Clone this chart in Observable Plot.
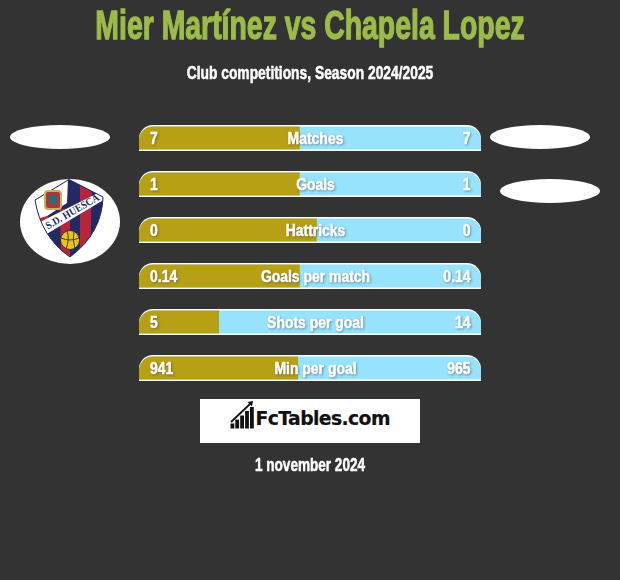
<!DOCTYPE html>
<html><head><meta charset="utf-8">
<script src="https://cdn.jsdelivr.net/npm/d3@7"></script>
<script src="https://cdn.jsdelivr.net/npm/@observablehq/plot@0.6"></script>
<style>
html,body{margin:0;padding:0;background:#333;}
#page{position:relative;width:620px;height:580px;overflow:hidden;background:#333;font-family:"Liberation Sans",sans-serif;font-weight:700;color:#fff}
#page>*{position:absolute}
h1{margin:0;left:0;width:620px;top:2px;text-align:center;font-size:40px;line-height:46px;color:#9cbb49;font-weight:700;-webkit-text-stroke:1.3px #9cbb49;transform:scaleX(.71)}
.sub{left:0;width:620px;text-align:center;top:63px;font-size:17.5px;line-height:20px;-webkit-text-stroke:.5px #fff;transform:scaleX(.79)}
.date{left:0;width:620px;text-align:center;top:455px;font-size:17.5px;line-height:20px;-webkit-text-stroke:.5px #fff;transform:scaleX(.775)}
.oval{background:#fff;border-radius:50%}
#chart{left:0;top:115px;line-height:0}
.logo{left:200px;top:399px;width:220px;height:44px;background:#fff}
.logo span{position:absolute;left:55.500px;top:6px;font:700 18.8px/28px "DejaVu Sans",sans-serif;letter-spacing:-.6px;color:#111;-webkit-text-stroke:.2px #111}
</style></head>
<body><div id="page">
<h1>Mier Martínez vs Chapela Lopez</h1>
<div class="sub">Club competitions, Season 2024/2025</div>
<div class="oval" style="left:10px;top:125px;width:100px;height:24px"></div>
<div class="oval" style="left:490px;top:125px;width:100px;height:24px"></div>
<div class="oval" style="left:500px;top:179px;width:100px;height:24px"></div>
<div class="oval" style="left:20px;top:179px;width:100px;height:85px"></div>
<svg style="left:20px;top:179px" width="100" height="85" viewBox="0 0 100 85">
  <clipPath id="sh"><path d="M15 21 L49 0.500 L83 18 Q82 54 50 78 Q21 58 15 21Z"/></clipPath>
  <g clip-path="url(#sh)">
    <rect x="0" y="0" width="100" height="85" fill="#232a63"/>
    <path d="M60 0 L72 0 L70 85 L60 85Z" fill="#b7243c"/>
    <path d="M40 30 L50 30 L50 85 L41 85Z" fill="#b7243c"/>
    <path d="M10 30 L28 30 L28 52 L10 52Z" fill="#b7243c"/>
    <path d="M10 0 L48 0 L47 24 L27 37 L10 42Z" fill="#fff"/>
    <path d="M10 48 L90 8 L90 17 L10 65Z" fill="#fff"/>
  </g>
  <path d="M15 21 L49 0.500 L83 18 Q82 54 50 78 Q21 58 15 21Z" fill="none" stroke="#232a63" stroke-width="1"/>
  <rect x="25" y="12" width="16" height="18" rx="3" fill="#a83a3a" stroke="#cdb05a" stroke-width="2"/>
  <rect x="29" y="16" width="8" height="9" fill="#2c6a7a"/>
  <text transform="translate(28 50.500) rotate(-30)" font-family="Liberation Serif" font-weight="700" font-size="10.500" fill="#232a63" textLength="60" lengthAdjust="spacingAndGlyphs">S.D. HUESCA</text>
  <circle cx="50" cy="61" r="9.500" fill="#e8c21f" stroke="#222" stroke-width=".8"/>
  <path d="M41 59 Q50 63 59 59 M47 52 Q50 60 46 70 M54 52 Q52 60 55 70" fill="none" stroke="#333" stroke-width=".9"/>
</svg>
<div id="chart"></div>
<div class="logo">
  <svg style="position:absolute;left:30px;top:2px" width="24" height="28" viewBox="0 0 24 28">
    <path d="M1 21 L20 3" stroke="#111" stroke-width="1.800" fill="none"/>
    <path d="M17.500 1 L23 0 L22 5.500Z" fill="#111"/>
    <rect x="0.500" y="22.500" width="3.800" height="5" fill="#111"/><rect x="5.300" y="18.500" width="3.800" height="9" fill="#111"/><rect x="10.200" y="14.500" width="3.800" height="13" fill="#111"/><rect x="15.100" y="10" width="3.800" height="17.500" fill="#111"/><rect x="20" y="6" width="3.800" height="21.500" fill="#111"/>
  </svg>
  <span>FcTables.com</span>
</div>
<div class="date">1 november 2024</div>
</div>
<script>
const categories = ["Matches","Goals","Hattricks","Goals per match","Shots per goal","Min per goal"];
const leftLabels = ["7","1","0","0.14","5","941"];
const rightLabels = ["7","1","0","0.14","14","965"];
const leftShare = [47,47,52,47,23.4,46.5];
const rows = categories.map((c,i)=>({c,l:leftLabels[i],r:rightLabels[i],share:leftShare[i],start:0,end:100}));
const textOpts = {y:"c",fill:"#fff",fontFamily:'"Liberation Sans",sans-serif',fontWeight:700,fontSize:17,stroke:"#fff",strokeWidth:.5,imageFilter:"drop-shadow(1px 1px 1px rgba(60,60,60,.5))"};
const chart = Plot.plot({
  width:620,height:276,marginLeft:139,marginRight:139,marginTop:10,marginBottom:10,
  style:{background:"transparent",overflow:"visible"},
  x:{domain:[0,100],axis:null},
  y:{domain:categories,axis:null,paddingInner:20/46,paddingOuter:0},
  marks:[
    Plot.barX(rows,{x1:"start",x2:"end",y:"c",fill:"#fff",rx1y1:14,rx2y1:14}),
    Plot.barX(rows,{x1:"start",x2:"end",y:"c",fill:"#97e3fe",insetTop:1.5,insetBottom:1.5,rx1y1:14,rx2y1:14}),
    Plot.barX(rows,{x1:"start",x2:"share",y:"c",fill:"#b8a014",insetTop:1.5,insetBottom:1.5,rx1y1:14}),
    Plot.text(rows,{...textOpts,x:"start",text:"l",textAnchor:"start",dx:10.5}),
    Plot.text(rows,{...textOpts,x:"end",text:"r",textAnchor:"end",dx:-11}),
    Plot.text(rows,{...textOpts,x:()=>50,text:"c",textAnchor:"middle",dx:5})
  ]
});
document.getElementById("chart").append(chart);
// Condense the labels: no condensed face is installed.
chart.querySelectorAll("text").forEach(t=>{
  t.setAttribute("lengthAdjust","spacingAndGlyphs");
  t.setAttribute("textLength",t.getComputedTextLength()*0.82);
});
</script>
</body></html>
